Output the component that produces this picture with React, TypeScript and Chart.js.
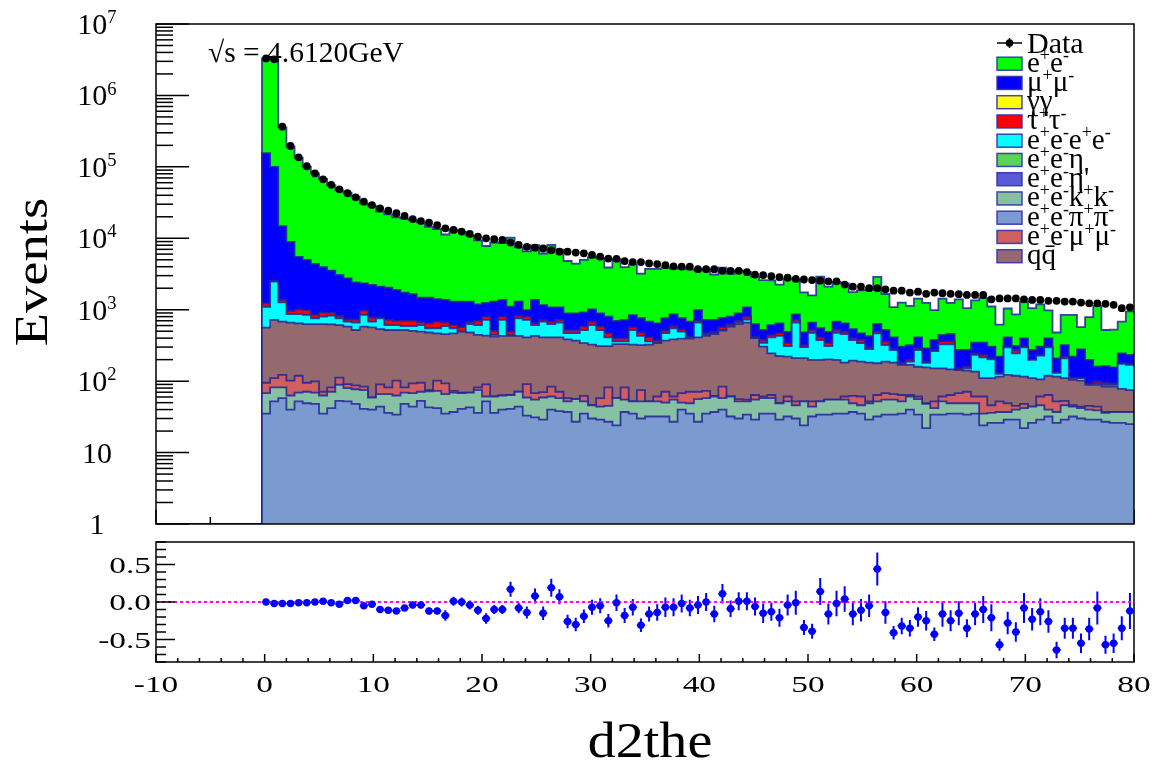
import React, { useEffect, useRef } from "react";
import { Chart, registerables } from "chart.js";

Chart.register(...registerables);

// ---------------- page geometry ----------------
const W = 1155;
const H = 764;
const TOP_H = 545;
const BOT_TOP = 530;
const BOT_H = 234;
const FONT = '"Liberation Serif", "DejaVu Serif", "Times New Roman", serif';

// ---------------- histogram binning ----------------
const HIST_MIN = -10;
const HIST_MAX = 80;
const FIRST_EDGE = -0.25; // low edge of the first filled bin
const BIN_WIDTH = 0.75;
const Y_MIN = 1;
const Y_MAX = 1e7;
const RATIO_MIN = -0.8;
const RATIO_MAX = 0.8;

// ---------------- data (one value per bin, 107 bins from -0.25 to 80) ----------------
const dataCounts = [
  3300000, 3200000, 365000, 196000, 136000, 102000, 81000, 67000, 56000, 48500, 42700, 37500, 32500, 29200, 26300, 24300, 22400, 20500, 18600, 17400, 16500, 15300, 13800, 13100, 12400, 11500, 10500, 10000, 9700, 9500, 8700, 8100, 7600, 7400, 7200,
  6800, 6500, 6500, 6300, 6150, 5850, 5530, 5200, 5150, 4800, 4650, 4650, 4450, 4350, 4200, 4050, 4000, 4000, 3700, 3700, 3700, 3500, 3500, 3500, 3350, 3100, 3050, 2950, 2850, 2800, 2700, 2650, 2600, 2550, 2500, 2500, 2250,
  2100, 2100, 2000, 2000, 1930, 1850, 1850, 1740, 1790, 1670, 1740, 1700, 1670, 1650, 1610, 1610, 1610, 1400, 1440, 1440, 1440, 1400, 1370, 1370, 1330, 1330, 1300, 1300, 1260, 1230, 1230, 1210, 1170, 1050, 1080,
];

// stacked MC histograms: cumulative height of the stack at the top of each component
const stackEe = [
  3300000, 3140000, 358000, 192000, 135000, 101000, 81000, 67700, 55400, 47000, 43600, 38300, 30900, 28300, 23700, 21600, 19700, 18900, 17900, 16700, 14500, 13500, 11300, 13200, 12400, 11000, 9350, 7800, 8730, 8550, 10200, 7450, 6540, 7990, 6120,
  8090, 6960, 4810, 4410, 4980, 5440, 5250, 3900, 5100, 3940, 4320, 3210, 3740, 3740, 3910, 3770, 3920, 3680, 3550, 3700, 3110, 3890, 3190, 3540, 3380, 2910, 2590, 2570, 2250, 2690, 2670, 1750, 1590, 2910, 2100, 2450, 2340,
  1760, 1870, 1900, 2880, 1660, 1090, 1260, 1130, 1430, 1250, 990, 1430, 1250, 1400, 1050, 1350, 1450, 1110, 620, 1040, 860, 1290, 1050, 1190, 980, 480, 845, 845, 570, 790, 1130, 520, 525, 680, 950,
];
const stackMuMu = [
  156000, 100000, 14800, 8900, 5500, 4970, 4370, 3930, 3530, 3060, 2750, 2410, 2340, 2220, 2100, 2030, 1890, 1730, 1650, 1470, 1470, 1410, 1370, 1300, 1300, 1300, 1190, 1250, 1300, 1370, 1100, 1300, 990, 1370, 1160,
  1080, 1080, 890, 890, 920, 1010, 890, 800, 695, 720, 840, 760, 680, 645, 760, 860, 760, 680, 990, 720, 720, 770, 800, 890, 1080, 630, 520, 610, 645, 490, 860, 480, 660, 550, 490, 680, 645,
  535, 467, 428, 631, 520, 411, 304, 320, 411, 288, 377, 443, 457, 273, 273, 345, 345, 304, 220, 411, 311, 398, 273, 304, 398, 209, 320, 220, 279, 198, 159, 162, 156, 245, 233,
];
const stackTauTau = [
  1230, 2550, 1370, 960, 1010, 990, 845, 910, 910, 820, 730, 730, 970, 775, 780, 720, 700, 700, 700, 670, 645, 680, 660, 610, 570, 670, 700, 800, 505, 800, 495, 825, 800, 645, 720,
  680, 720, 520, 520, 580, 680, 580, 470, 400, 400, 570, 480, 410, 370, 510, 590, 530, 420, 700, 470, 490, 570, 630, 700, 800, 420, 380, 440, 470, 340, 720, 320, 520, 410, 340, 520, 490,
  400, 380, 300, 490, 360, 280, 182, 198, 288, 188, 273, 360, 360, 151, 160, 245, 233, 210, 130, 305, 273, 305, 198, 233, 305, 132, 220, 112, 110, 93, 99, 95, 93, 178, 175,
];
const stackEeEe = [
  1100, 2470, 1270, 870, 870, 845, 760, 800, 825, 760, 680, 660, 845, 680, 760, 610, 610, 590, 590, 610, 550, 550, 590, 550, 495, 630, 610, 720, 445, 720, 440, 760, 720, 610, 680,
  630, 660, 470, 470, 520, 610, 520, 410, 360, 360, 520, 430, 360, 340, 470, 550, 495, 405, 660, 450, 470, 520, 590, 660, 730, 400, 345, 410, 430, 310, 660, 300, 475, 375, 310, 475, 455,
  375, 340, 282, 465, 320, 273, 175, 188, 273, 180, 264, 328, 328, 143, 151, 233, 215, 202, 126, 298, 245, 298, 198, 227, 298, 131, 209, 110, 110, 91, 93, 89, 89, 175, 169,
];
const stackQQ = [
  560, 720, 680, 660, 645, 630, 630, 630, 625, 610, 580, 520, 580, 565, 535, 520, 520, 520, 505, 495, 480, 465, 455, 465, 495, 480, 445, 435, 420, 430, 430, 430, 410, 430, 410,
  410, 410, 385, 370, 340, 325, 310, 310, 330, 330, 325, 320, 325, 340, 370, 385, 395, 395, 410, 430, 455, 510, 580, 630, 660, 400, 305, 245, 225, 220, 210, 210, 198, 198, 202, 198, 182,
  194, 188, 182, 178, 188, 182, 169, 169, 159, 156, 151, 151, 146, 143, 140, 136, 110, 110, 116, 122, 119, 116, 110, 106, 119, 116, 110, 104, 102, 89, 89, 84, 84, 78, 75,
];
const stackEeMuMu = [
  95, 110, 122, 102, 119, 95, 99, 71, 82, 112, 91, 87, 84, 59, 90, 82, 102, 82, 93, 95, 75, 102, 93, 73, 69, 69, 82, 90, 61, 63, 64, 71, 91, 68, 70,
  84, 71, 58, 56, 62, 46, 58, 82, 58, 82, 52, 75, 52, 61, 71, 61, 68, 71, 71, 73, 62, 84, 61, 56, 55, 64, 61, 64, 49, 61, 52, 52, 52, 52, 55, 55, 61,
  62, 61, 52, 64, 68, 66, 64, 64, 61, 49, 52, 61, 64, 68, 71, 61, 61, 46, 52, 49, 45, 48, 44, 61, 64, 52, 53, 46, 44, 45, 44, 37, 37, 37, 37,
];
const stackKK = [
  68, 82, 82, 63, 69, 71, 69, 63, 71, 89, 80, 77, 75, 59, 66, 66, 63, 69, 68, 71, 72, 73, 66, 69, 68, 69, 75, 61, 61, 63, 64, 71, 59, 55, 59,
  61, 58, 52, 56, 52, 46, 44, 45, 58, 55, 52, 52, 52, 52, 50, 55, 50, 49, 56, 58, 61, 58, 61, 52, 52, 55, 58, 58, 49, 52, 46, 52, 44, 52, 55, 55, 55,
  49, 46, 49, 52, 55, 55, 52, 61, 56, 48, 42, 52, 49, 49, 49, 49, 35, 36, 37, 37, 40, 42, 44, 46, 40, 37, 46, 44, 42, 40, 39, 36, 37, 37, 37,
];
const stackPiPi = [
  35, 52, 58, 40, 52, 49, 48, 35, 42, 53, 52, 48, 41, 40, 44, 36, 34, 48, 44, 53, 43, 42, 35, 37, 41, 43, 36, 52, 36, 40, 41, 44, 33, 31, 29,
  40, 38, 37, 27, 35, 30, 29, 27, 24, 37, 35, 30, 32, 32, 32, 27, 40, 35, 27, 35, 37, 40, 32, 30, 34, 29, 35, 35, 29, 32, 30, 24, 32, 34, 34, 35, 35,
  37, 35, 29, 32, 34, 34, 35, 40, 34, 22, 34, 34, 35, 35, 34, 35, 24, 26, 26, 29, 29, 22, 26, 29, 32, 26, 29, 32, 30, 29, 29, 27, 26, 26, 25,
];

// lower pad: relative difference per bin and its uncertainty
const ratioValues = [
  0.0, -0.02, -0.02, -0.02, -0.01, -0.01, 0.0, 0.01, -0.01, -0.03, 0.02, 0.02, -0.05, -0.03, -0.1, -0.11, -0.12, -0.08, -0.04, -0.04, -0.12, -0.12, -0.18, 0.01, 0.0, -0.04, -0.11, -0.22, -0.1, -0.1, 0.17, -0.08, -0.14, 0.08, -0.15,
  0.19, 0.07, -0.26, -0.3, -0.19, -0.07, -0.05, -0.25, -0.01, -0.18, -0.07, -0.31, -0.16, -0.14, -0.07, -0.07, -0.02, -0.08, -0.04, 0.0, -0.16, 0.11, -0.09, 0.01, 0.01, -0.06, -0.15, -0.13, -0.21, -0.04, -0.01, -0.34, -0.39, 0.14, -0.16, -0.02, 0.04,
  -0.16, -0.11, -0.05, 0.44, -0.14, -0.41, -0.32, -0.35, -0.2, -0.25, -0.43, -0.16, -0.25, -0.15, -0.35, -0.16, -0.1, -0.21, -0.57, -0.28, -0.4, -0.08, -0.23, -0.13, -0.26, -0.64, -0.35, -0.35, -0.55, -0.36, -0.08, -0.57, -0.55, -0.35, -0.12,
];
const ratioErrors = [
  0.01, 0.01, 0.01, 0.01, 0.01, 0.01, 0.01, 0.01, 0.01, 0.01, 0.01, 0.01, 0.02, 0.02, 0.035, 0.035, 0.035, 0.035, 0.045, 0.045, 0.045, 0.045, 0.07, 0.06, 0.06, 0.06, 0.06, 0.07, 0.06, 0.06, 0.1, 0.07, 0.08, 0.1, 0.09,
  0.12, 0.1, 0.09, 0.09, 0.09, 0.1, 0.1, 0.09, 0.11, 0.1, 0.11, 0.09, 0.1, 0.11, 0.13, 0.12, 0.12, 0.11, 0.12, 0.12, 0.11, 0.13, 0.11, 0.12, 0.12, 0.12, 0.13, 0.12, 0.12, 0.14, 0.16, 0.1, 0.1, 0.18, 0.14, 0.17, 0.17,
  0.15, 0.15, 0.15, 0.22, 0.15, 0.09, 0.11, 0.11, 0.13, 0.13, 0.09, 0.17, 0.14, 0.16, 0.12, 0.15, 0.18, 0.18, 0.08, 0.15, 0.13, 0.2, 0.15, 0.18, 0.15, 0.11, 0.14, 0.14, 0.13, 0.15, 0.22, 0.12, 0.13, 0.16, 0.24,
];

// ---------------- labels / ticks ----------------
const stackLabels = ["e⁺e⁻π⁺π⁻", "e⁺e⁻k⁺k⁻", "e⁺e⁻μ⁺μ⁻", "qq̄", "e⁺e⁻e⁺e⁻", "τ⁺τ⁻", "μ⁺μ⁻", "e⁺e⁻"];
const stackColors = ["#7b9bd0", "#86c1a3", "#d05f5f", "#946a6f", "#00ffff", "#ff0000", "#0000ff", "#00ff00"];
const stackValues = [stackPiPi, stackKK, stackEeMuMu, stackQQ, stackEeEe, stackTauTau, stackMuMu, stackEe];

const legendLabels = ["e⁺e⁻", "μ⁺μ⁻", "γγ", "τ⁺τ⁻", "e⁺e⁻e⁺e⁻", "e⁺e⁻η", "e⁺e⁻η'", "e⁺e⁻k⁺k⁻", "e⁺e⁻π⁺π⁻", "e⁺e⁻μ⁺μ⁻", "qq̄"];
const legendColors = ["#00ff00", "#0000ff", "#ffff00", "#ff0000", "#00ffff", "#58d558", "#5a5ad6", "#86c1a3", "#7b9bd0", "#d05f5f", "#946a6f"];

const yDecadeLabels = ["1", "10", "10²", "10³", "10⁴", "10⁵", "10⁶", "10⁷"];
const xMajorTicks = [-10, 0, 10, 20, 30, 40, 50, 60, 70, 80];
const ratioMajorTicks = [-0.5, 0, 0.5];
const ratioTickLabels = ["-0.5", "0.0", "0.5"];

const TITLE_X = "d2the";
const TITLE_Y = "Events";
const ENERGY_LABEL = "√s = 4.6120GeV";

const OUTLINE = "rgba(35,35,150,0.85)";
const RATIO_COLOR = "#0000ff";

const SUP_MAP: Record<string, string> = {
  "⁺": "+", "⁻": "-", "⁰": "0", "¹": "1", "²": "2", "³": "3", "⁴": "4", "⁵": "5", "⁶": "6", "⁷": "7", "⁸": "8", "⁹": "9",
};

const binLow = (i: number) => FIRST_EDGE + i * BIN_WIDTH;
const binCenter = (i: number) => FIRST_EDGE + (i + 0.5) * BIN_WIDTH;

function stepPoints(values: number[]) {
  const pts: { x: number; y: number }[] = [{ x: HIST_MIN, y: Y_MIN }];
  values.forEach((v, i) => pts.push({ x: binLow(i), y: Math.max(v, Y_MIN) }));
  pts.push({ x: HIST_MAX, y: Math.max(values[values.length - 1], Y_MIN) });
  return pts;
}

function drawText(
  ctx: CanvasRenderingContext2D,
  text: string,
  x: number,
  y: number,
  size: number,
  opts: { align?: CanvasTextAlign; sx?: number; rotate?: number; color?: string } = {}
) {
  ctx.save();
  ctx.translate(x, y);
  if (opts.rotate) ctx.rotate(opts.rotate);
  ctx.scale(opts.sx ?? 1, 1);
  ctx.font = `${size}px ${FONT}`;
  ctx.textAlign = opts.align ?? "left";
  ctx.textBaseline = "alphabetic";
  ctx.fillStyle = opts.color ?? "#000";
  ctx.fillText(text, 0, 0);
  ctx.restore();
}

// split a label into normal / superscript runs (TLatex-like rendering)
function runs(label: string) {
  const out: { t: string; sup: boolean }[] = [];
  for (const ch of Array.from(label)) {
    const sup = ch in SUP_MAP;
    const t = sup ? SUP_MAP[ch] : ch;
    const last = out[out.length - 1];
    if (last && last.sup === sup) last.t += t;
    else out.push({ t, sup });
  }
  return out;
}

function richWidth(ctx: CanvasRenderingContext2D, label: string, size: number) {
  let w = 0;
  for (const r of runs(label)) {
    ctx.font = `${r.sup ? size * 0.62 : size}px ${FONT}`;
    w += ctx.measureText(r.t).width;
  }
  return w;
}

function drawRich(
  ctx: CanvasRenderingContext2D,
  label: string,
  x: number,
  baseline: number,
  size: number,
  align: "left" | "center" | "right" = "left"
) {
  ctx.save();
  const w = richWidth(ctx, label, size);
  let cx = align === "left" ? x : align === "center" ? x - w / 2 : x - w;
  ctx.fillStyle = "#000";
  ctx.textAlign = "left";
  ctx.textBaseline = "alphabetic";
  for (const r of runs(label)) {
    const s = r.sup ? size * 0.62 : size;
    ctx.font = `${s}px ${FONT}`;
    ctx.fillText(r.t, cx, r.sup ? baseline - size * 0.36 : baseline);
    cx += ctx.measureText(r.t).width;
  }
  ctx.restore();
}

function seg(ctx: CanvasRenderingContext2D, x1: number, y1: number, x2: number, y2: number) {
  ctx.beginPath();
  ctx.moveTo(x1, y1);
  ctx.lineTo(x2, y2);
  ctx.stroke();
}

const topDecor = {
  id: "topDecor",
  beforeDatasetsDraw(chart: any) {
    const { ctx, chartArea: a, scales } = chart;
    ctx.save();
    ctx.strokeStyle = "#000";
    ctx.lineWidth = 1.5;
    for (let v = HIST_MIN; v <= HIST_MAX; v += 5) {
      const px = scales.x.getPixelForValue(v);
      const len = xMajorTicks.includes(v) ? 14 : 7;
      seg(ctx, px, a.bottom, px, a.bottom - len);
    }
    ctx.restore();
  },
  afterDatasetsDraw(chart: any) {
    const { ctx, chartArea: a, scales } = chart;
    const ys = scales.y;
    ctx.save();
    // frame
    ctx.strokeStyle = "#000";
    ctx.lineWidth = 1.5;
    ctx.strokeRect(a.left, a.top, a.right - a.left, a.bottom - a.top);
    // log ticks on the left axis
    yDecadeLabels.forEach((lab, e) => {
      const base = Math.pow(10, e);
      const py = ys.getPixelForValue(base);
      seg(ctx, a.left, py, a.left + 33, py);
      if (e < yDecadeLabels.length - 1) {
        for (let m = 2; m <= 9; m++) {
          const pm = ys.getPixelForValue(m * base);
          seg(ctx, a.left, pm, a.left + 17, pm);
        }
      }
      drawRich(ctx, lab, 97, py + 10, 30, "center");
    });
    // axis title
    drawText(ctx, TITLE_Y, 47, 272, 47, { align: "center", rotate: -Math.PI / 2, sx: 1.16 });
    // energy label
    drawText(ctx, ENERGY_LABEL, 208, 62, 29.5);
    // legend
    const bx = 997;
    const bw = 25;
    const tx = 1027;
    const dy = 43;
    ctx.strokeStyle = "#000";
    ctx.lineWidth = 1.5;
    seg(ctx, bx, dy, bx + bw, dy);
    seg(ctx, bx + bw / 2, dy - 5, bx + bw / 2, dy + 5);
    ctx.fillStyle = "#000";
    ctx.beginPath();
    ctx.arc(bx + bw / 2, dy, 3.8, 0, Math.PI * 2);
    ctx.fill();
    drawText(ctx, "Data", tx, 53, 30);
    legendLabels.forEach((lab, k) => {
      const cy = 63.7 + k * 19.25;
      ctx.fillStyle = legendColors[k];
      ctx.fillRect(bx, cy - 6.5, bw, 13);
      ctx.strokeStyle = "rgba(50,50,170,0.9)";
      ctx.lineWidth = 1.5;
      ctx.strokeRect(bx, cy - 6.5, bw, 13);
      drawRich(ctx, lab, tx, cy + 8, 29, "left");
    });
    ctx.restore();
  },
};

const ratioDecor = {
  id: "ratioDecor",
  beforeDatasetsDraw(chart: any) {
    const { ctx, chartArea: a, scales } = chart;
    const xs = scales.x;
    const ys = scales.y;
    ctx.save();
    ctx.beginPath();
    ctx.rect(a.left, a.top, a.right - a.left, a.bottom - a.top);
    ctx.clip();
    ctx.strokeStyle = RATIO_COLOR;
    ctx.lineWidth = 2;
    ratioValues.forEach((r, i) => {
      const e = ratioErrors[i];
      const cx = xs.getPixelForValue(binCenter(i));
      seg(ctx, cx, ys.getPixelForValue(r - e), cx, ys.getPixelForValue(r + e));
      const py = ys.getPixelForValue(r);
      seg(ctx, xs.getPixelForValue(binLow(i)), py, xs.getPixelForValue(binLow(i) + BIN_WIDTH), py);
    });
    ctx.restore();
  },
  afterDatasetsDraw(chart: any) {
    const { ctx, chartArea: a, scales } = chart;
    const xs = scales.x;
    const ys = scales.y;
    ctx.save();
    ctx.strokeStyle = "#000";
    ctx.lineWidth = 1.5;
    ctx.strokeRect(a.left, a.top, a.right - a.left, a.bottom - a.top);
    // y ticks every 0.1
    for (let k = -8; k <= 8; k++) {
      const v = k / 10;
      const py = ys.getPixelForValue(v);
      const major = ratioMajorTicks.some((t) => Math.abs(t - v) < 1e-9);
      seg(ctx, a.left, py, a.left + (major ? 19 : 10), py);
    }
    ratioMajorTicks.forEach((v, k) => {
      drawText(ctx, ratioTickLabels[k], 151, ys.getPixelForValue(v) + 8, 23, { align: "right", sx: 1.45 });
    });
    // x ticks every 2 units
    for (let v = HIST_MIN; v <= HIST_MAX; v += 2) {
      const px = xs.getPixelForValue(v);
      const major = xMajorTicks.includes(v);
      seg(ctx, px, a.bottom, px, a.bottom - (major ? 8 : 4));
    }
    xMajorTicks.forEach((v) => {
      drawText(ctx, String(v), xs.getPixelForValue(v), 162, 23, { align: "center", sx: 1.45 });
    });
    drawText(ctx, TITLE_X, 650, 227, 51, { align: "center", sx: 1.1 });
    ctx.restore();
  },
};

export default function App() {
  const topRef = useRef<HTMLCanvasElement>(null);
  const botRef = useRef<HTMLCanvasElement>(null);

  useEffect(() => {
    const layerSets = stackValues.map((vals, k) => ({
      type: "line",
      label: stackLabels[k],
      data: stepPoints(vals),
      stepped: "before",
      fill: "start",
      backgroundColor: stackColors[k],
      borderColor: OUTLINE,
      borderWidth: 1.8,
      pointRadius: 0,
    }));
    const dataSet = {
      type: "line",
      label: "Data",
      data: dataCounts.map((v, i) => ({ x: binCenter(i), y: v })),
      showLine: false,
      pointRadius: 3.9,
      pointBackgroundColor: "#000",
      pointBorderColor: "#000",
      pointBorderWidth: 0,
    };
    const top = new Chart(topRef.current as HTMLCanvasElement, {
      type: "line",
      data: { datasets: [dataSet, ...layerSets] as any },
      options: {
        responsive: false,
        animation: false,
        events: [],
        layout: { padding: { left: 156, right: W - 1134, top: 24, bottom: TOP_H - 524 } },
        scales: {
          x: { type: "linear", min: HIST_MIN, max: HIST_MAX, display: false },
          y: { type: "logarithmic", min: Y_MIN, max: Y_MAX, display: false },
        },
        plugins: { legend: { display: false }, tooltip: { enabled: false } },
      } as any,
      plugins: [topDecor],
    });

    const bot = new Chart(botRef.current as HTMLCanvasElement, {
      type: "line",
      data: {
        datasets: [
          {
            label: "ratio",
            data: ratioValues.map((r, i) => ({ x: binCenter(i), y: r })),
            showLine: false,
            pointRadius: 3.7,
            pointBackgroundColor: RATIO_COLOR,
            pointBorderColor: RATIO_COLOR,
            pointBorderWidth: 0,
          },
          {
            label: "zero",
            data: [
              { x: HIST_MIN, y: 0 },
              { x: HIST_MAX, y: 0 },
            ],
            borderColor: "#ff00ff",
            borderWidth: 2,
            borderDash: [3, 3],
            pointRadius: 0,
            fill: false,
          },
        ] as any,
      },
      options: {
        responsive: false,
        animation: false,
        events: [],
        layout: { padding: { left: 156, right: W - 1134, top: 12, bottom: BOT_H - 132 } },
        scales: {
          x: { type: "linear", min: HIST_MIN, max: HIST_MAX, display: false },
          y: { type: "linear", min: RATIO_MIN, max: RATIO_MAX, display: false },
        },
        plugins: { legend: { display: false }, tooltip: { enabled: false } },
      } as any,
      plugins: [ratioDecor],
    });

    return () => {
      top.destroy();
      bot.destroy();
    };
  }, []);

  return (
    <div
      style={{
        position: "fixed",
        left: 0,
        top: 0,
        width: W,
        height: H,
        background: "#fff",
        overflow: "hidden",
      }}
    >
      <canvas
        ref={botRef}
        width={W}
        height={BOT_H}
        style={{ position: "absolute", left: 0, top: BOT_TOP, width: W, height: BOT_H }}
      />
      <canvas
        ref={topRef}
        width={W}
        height={TOP_H}
        style={{ position: "absolute", left: 0, top: 0, width: W, height: TOP_H }}
      />
    </div>
  );
}
